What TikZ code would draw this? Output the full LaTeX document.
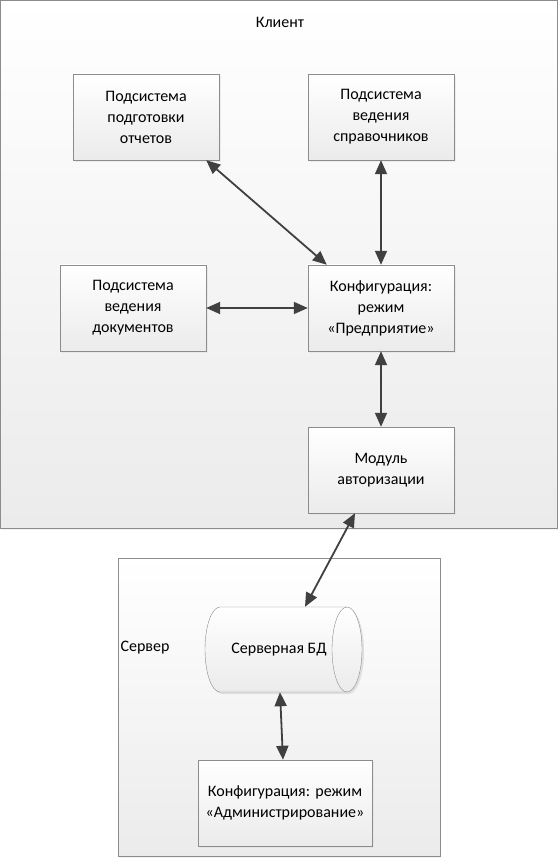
\documentclass[tikz,border=0pt]{standalone}
\usepackage{fontspec}
\setmainfont{Carlito}
\usetikzlibrary{arrows.meta, shadows}
\definecolor{BoxLine}{HTML}{8C8C8C}
\definecolor{ArrowGrey}{HTML}{404040}
\definecolor{BoxGrey}{HTML}{EBEBEB}

\begin{document}
\frenchspacing
\begin{tikzpicture}[x=1pt, y=-1pt,
    block/.style={draw=BoxLine, top color=white, bottom color=BoxGrey,
      minimum width=146pt, minimum height=86pt, text width=140pt,
      align=center, inner sep=0pt, font=\fontsize{16}{21}\selectfont,
      drop shadow={shadow xshift=2pt, shadow yshift=-2pt, fill=black!12}},
    frame/.style={draw=BoxLine, top color=white, bottom color=BoxGrey,
      drop shadow={shadow xshift=1pt, shadow yshift=-2pt, fill=black!10}},
    link/.style={{Triangle[length=14pt,width=12pt]}-{Triangle[length=14pt,width=12pt]},
      line width=1.8pt, ArrowGrey},
    caption/.style={font=\fontsize{16}{21}\selectfont}]
  \useasboundingbox (0,0) rectangle (559,858);
  % Client and server frames
  \draw[frame] (0.5,0.5) rectangle (557,528);
  \draw[frame] (118,558) rectangle (440,856.5);
  \node[caption] (client) at (280,22) {Клиент};
  \node[caption] (server) at (145,648) {Сервер};
  % Client subsystems
  \node[block] (otch) at (146,117) {Подсистема\\подготовки\\отчетов};
  \node[block] (sprav) at (381,117) {Подсистема\\ведения\\справочников};
  \node[block] (dok) at (133,308) {Подсистема\\ведения\\документов};
  \node[block] (konf) at (381,308) {Конфигурация:\\режим\\«Предприятие»};
  \node[block] (modul) at (381,470) {Модуль\\авторизации};
  % Server database (horizontal cylinder)
  \fill[black!12] (222,609) -- (349,609)
    arc[start angle=90, end angle=-90, x radius=15pt, y radius=42.5pt]
    -- (222,694) arc[start angle=270, end angle=90, x radius=15pt, y radius=42.5pt]
    -- cycle;
  \draw[BoxLine, top color=white, bottom color=BoxGrey] (220,607) -- (347,607)
    arc[start angle=90, end angle=-90, x radius=15pt, y radius=42.5pt]
    -- (220,692) arc[start angle=270, end angle=90, x radius=15pt, y radius=42.5pt]
    -- cycle;
  \draw[BoxLine] (347,607)
    arc[start angle=90, end angle=270, x radius=15pt, y radius=42.5pt];
  \node[caption, minimum width=157pt, minimum height=85pt, inner sep=0pt]
    (bd) at (279,649.5) {Серверная БД};
  \node[block, minimum width=174pt, text width=170pt] (admin) at (285,803)
    {Конфигурация: режим\\«Администрирование»};
  % Links
  \draw[link] ([xshift=-13pt]otch.south east) -- ([xshift=19pt]konf.north west);
  \draw[link] (sprav.south) -- (konf.north);
  \draw[link] (dok.east) -- (konf.west);
  \draw[link] (konf.south) -- (modul.north);
  \draw[link] ([xshift=-26pt]modul.south) -- ([xshift=26pt]bd.north);
  \draw[link] ([xshift=1pt]bd.south) -- ([xshift=-2pt]admin.north);
\end{tikzpicture}
\end{document}
